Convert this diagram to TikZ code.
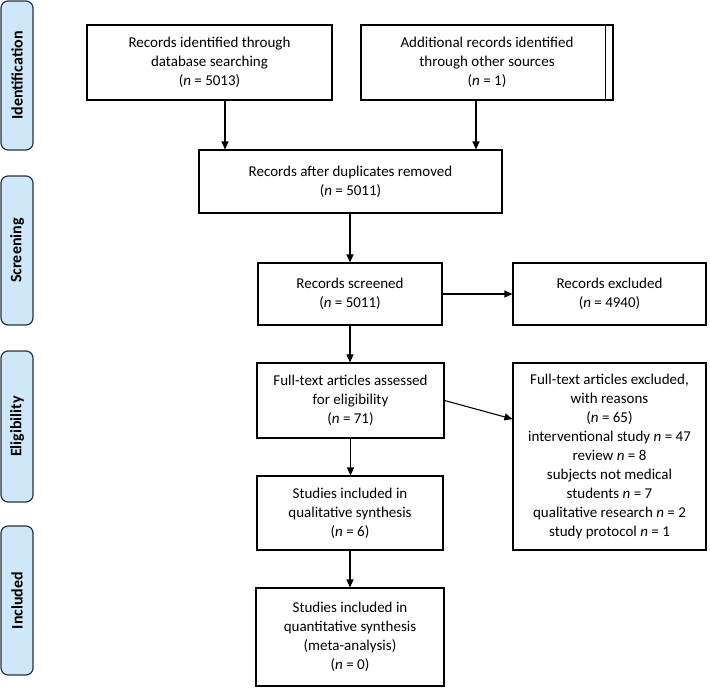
\documentclass[tikz,border=0pt]{standalone}
\usepackage{fontspec}
\setmainfont{Carlito}
\usetikzlibrary{arrows.meta,calc}
\definecolor{barfill}{RGB}{206,232,250}
\definecolor{barline}{RGB}{40,50,62}
\begin{document}
\begin{tikzpicture}[x=1pt,y=-1pt,
  box/.style={draw=black,line width=1.1pt,align=center,inner sep=0pt,
    font=\fontsize{15}{19}\selectfont},
  arr/.style={line width=1.1pt,-{Triangle[length=8pt,width=7pt]}},
  bar/.style={draw=barline,fill=barfill,line width=1.2pt,rounded corners=7pt,
    minimum width=32pt,inner sep=0pt},
  barlabel/.style={rotate=90,font=\fontsize{16}{19}\selectfont\bfseries}]
\useasboundingbox (0,0) rectangle (710,689);
% side bars
\node[bar,minimum height=149pt] (sid) at (17,75.5) {};
\node[barlabel] (tid) at (sid.center) {Identification};
\node[bar,minimum height=149pt] (ssc) at (17,250.5) {};
\node[barlabel] (tsc) at (ssc.center) {Screening};
\node[bar,minimum height=151pt] (sel) at (17,426.5) {};
\node[barlabel] (tel) at (sel.center) {Eligibility};
\node[bar,minimum height=149pt] (sin) at (17,600.5) {};
\node[barlabel] (tin) at (sin.center) {Included};
% boxes
\node[box,minimum width=245pt,minimum height=75pt] (b1) at (209.5,62.5)
  {Records identified through\\database searching\\(\textit{n} = 5013)};
\node[box,minimum width=252pt,minimum height=75pt] (b2) at (487,62.5)
  {Additional records identified\\through other sources\\(\textit{n} = 1)};
\draw[line width=1.1pt] ([xshift=-8pt]b2.north east) -- ([xshift=-8pt]b2.south east);
\node[box,minimum width=303pt,minimum height=63pt] (b3) at (350.5,181.5)
  {Records after duplicates removed\\(\textit{n} = 5011)};
\node[box,minimum width=184pt,minimum height=62pt] (b4) at (350,294)
  {Records screened\\(\textit{n} = 5011)};
\node[box,minimum width=193pt,minimum height=62pt] (b5) at (609.5,294)
  {Records excluded\\(\textit{n} = 4940)};
\node[box,minimum width=187pt,minimum height=75pt] (b6) at (350.5,400.5)
  {Full-text articles assessed\\for eligibility\\(\textit{n} = 71)};
\node[box,minimum width=193pt,minimum height=187pt] (b7) at (609.5,456.5)
  {Full-text articles excluded,\\with reasons\\(\textit{n} = 65)\\interventional study \textit{n} = 47\\review \textit{n} = 8\\subjects not medical\\students \textit{n} = 7\\qualitative research \textit{n} = 2\\study protocol \textit{n} = 1};
\node[box,minimum width=186pt,minimum height=74pt] (b8) at (350,513)
  {Studies included in\\qualitative synthesis\\(\textit{n} = 6)};
\node[box,minimum width=188pt,minimum height=98pt] (b9) at (350,637)
  {Studies included in\\quantitative synthesis\\(meta-analysis)\\(\textit{n} = 0)};
% connectors
\draw[arr] ([xshift=15.5pt]b1.south) -- ([xshift=15.5pt]b1.south |- b3.north);
\draw[arr] ([xshift=-11pt]b2.south) -- ([xshift=-11pt]b2.south |- b3.north);
\draw[arr] (b4.north |- b3.south) -- (b4.north);
\draw[arr] (b4.east) -- (b5.west);
\draw[arr] (b4.south) -- (b4.south |- b6.north);
\draw[arr] (b6.east) -- ([yshift=37.5pt]b7.west);
\draw[arr] (b6.south) -- (b6.south |- b8.north);
\draw[arr] (b8.south) -- (b8.south |- b9.north);
\end{tikzpicture}
\end{document}
